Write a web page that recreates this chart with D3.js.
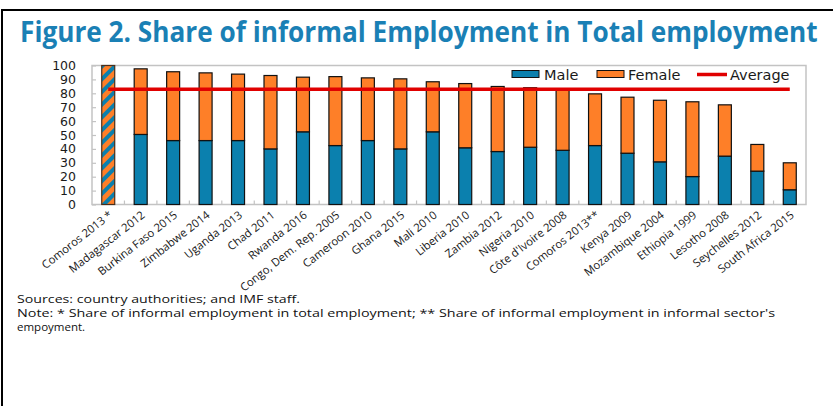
<!DOCTYPE html>
<html>
<head>
<meta charset="utf-8">
<script src="https://cdn.jsdelivr.net/npm/d3@7"></script>
<style>
  html, body { margin: 0; padding: 0; background: #fff; }
  svg { display: block; }
</style>
</head>
<body>
<svg id="chart" width="833" height="406"></svg>
<script>
// Countries (survey year); first bar is a single total-only value
const categories = [
  "Comoros 2013 *", "Madagascar 2012", "Burkina Faso 2015", "Zimbabwe 2014",
  "Uganda 2013", "Chad 2011", "Rwanda 2016", "Congo, Dem. Rep. 2005",
  "Cameroon 2010", "Ghana 2015", "Mali 2010", "Liberia 2010", "Zambia 2012",
  "Nigeria 2010", "Côte d'Ivoire 2008", "Comoros 2013**", "Kenya 2009",
  "Mozambique 2004", "Ethiopia 1999", "Lesotho 2008", "Seychelles 2012",
  "South Africa 2015"
];
// Male contribution (bottom segment); null where no split is available
const male = [null, 50.4, 46.0, 46.0, 46.0, 40.0, 52.3, 42.4, 46.0, 40.0, 52.3,
  40.8, 38.1, 41.2, 39.0, 42.4, 36.9, 30.7, 20.1, 34.8, 24.0, 10.6];
// Total informal share (top of each bar)
const total = [100, 97.6, 95.5, 94.7, 93.8, 92.8, 91.6, 92.0, 91.1, 90.4, 88.3,
  87.0, 84.9, 84.0, 82.5, 79.6, 77.2, 75.0, 73.9, 71.7, 43.2, 30.0];
const average = 82.9;
const yTicks = [0, 10, 20, 30, 40, 50, 60, 70, 80, 90, 100];

const colors = { male: "#0b80ae", female: "#fe7f28", avg: "#e00000", frame: "#c3c3c3" };

const svg = d3.select("#chart");

// Hatch used for the total-only bar
const defs = svg.append("defs");
const pat = defs.append("pattern")
  .attr("id", "hatch").attr("patternUnits", "userSpaceOnUse")
  .attr("width", 9).attr("height", 9)
  .attr("patternTransform", "rotate(45)");
pat.append("rect").attr("width", 9).attr("height", 9).attr("fill", colors.female);
pat.append("rect").attr("width", 4).attr("height", 9).attr("fill", colors.male);

// Outer border of the figure
svg.append("path").attr("d", "M2,406 V10 H833")
  .attr("fill", "none").attr("stroke", "#000").attr("stroke-width", 2);

// Title, condensed horizontally to span its line
const title = svg.append("text")
  .attr("font-family", "'Open Sans', sans-serif").attr("font-weight", 700)
  .attr("font-size", 28).attr("fill", "#1a80b5")
  .text("Figure 2. Share of informal Employment in Total employment");
const titleW = title.node().getComputedTextLength();
title.attr("transform", `translate(20,42) scale(${798 / titleW},1)`);

const plot = { left: 92, right: 806, top: 65.5, bottom: 204.5 };

const x = d3.scaleBand().domain(categories)
  .range([plot.left, plot.right]).paddingInner(0.6).paddingOuter(0.3);
const y = d3.scaleLinear().domain([0, 100]).range([plot.bottom, plot.top]);

// Plot frame
svg.append("rect")
  .attr("x", plot.left).attr("y", plot.top)
  .attr("width", plot.right - plot.left).attr("height", plot.bottom - plot.top)
  .attr("fill", "none").attr("stroke", colors.frame).attr("stroke-width", 1.5);

// Y axis with inward ticks
const yAxis = svg.append("g").attr("transform", `translate(${plot.left},0)`)
  .call(d3.axisLeft(y).tickValues(yTicks).tickSize(-4).tickPadding(16));
yAxis.select(".domain").remove();
yAxis.selectAll("line").attr("stroke", colors.frame).attr("stroke-width", 1.2);
yAxis.selectAll("text")
  .attr("font-family", "'DejaVu Sans', sans-serif").attr("font-size", 12.5)
  .attr("fill", "#1a1a1a");

// X axis: category labels at band centres, ticks at band boundaries
const xAxis = svg.append("g").attr("transform", `translate(0,${plot.bottom})`)
  .call(d3.axisBottom(x).tickSize(0).tickPadding(0));
xAxis.select(".domain").remove();
xAxis.selectAll("text")
  .attr("font-family", "'Open Sans', sans-serif").attr("font-size", 11.3)
  .attr("fill", "#1a1a1a")
  .attr("text-anchor", "end")
  .attr("dy", null).attr("y", 0)
  .attr("transform", "translate(5,12) rotate(-38)");

const half = x.step() * x.paddingInner() / 2;
svg.append("g").selectAll("line")
  .data(categories.slice(0, -1))
  .join("line")
  .attr("x1", d => x(d) + x.bandwidth() + half)
  .attr("x2", d => x(d) + x.bandwidth() + half)
  .attr("y1", plot.bottom).attr("y2", plot.bottom - 4)
  .attr("stroke", colors.frame).attr("stroke-width", 1.2);

// Bars
const rows = categories.map((c, i) => ({ c, male: male[i], total: total[i] }));
const bars = svg.append("g");
bars.selectAll("rect.total-only")
  .data(rows.filter(r => r.male == null))
  .join("rect").attr("class", "total-only")
  .attr("x", d => x(d.c)).attr("width", x.bandwidth())
  .attr("y", d => y(d.total)).attr("height", d => y(0) - y(d.total))
  .attr("fill", "url(#hatch)").attr("stroke", "#4a2e1a").attr("stroke-width", 1.2);
bars.selectAll("rect.male")
  .data(rows.filter(r => r.male != null))
  .join("rect").attr("class", "male")
  .attr("x", d => x(d.c)).attr("width", x.bandwidth())
  .attr("y", d => y(d.male)).attr("height", d => y(0) - y(d.male))
  .attr("fill", colors.male).attr("stroke", "#111").attr("stroke-width", 1.2);
bars.selectAll("rect.female")
  .data(rows.filter(r => r.male != null))
  .join("rect").attr("class", "female")
  .attr("x", d => x(d.c)).attr("width", x.bandwidth())
  .attr("y", d => y(d.total)).attr("height", d => y(d.male) - y(d.total))
  .attr("fill", colors.female).attr("stroke", "#111").attr("stroke-width", 1.2);

// Average line across bar centres
const first = categories[0], last = categories[categories.length - 1];
svg.append("line")
  .attr("x1", x(first) + x.bandwidth() / 2).attr("x2", x(last) + x.bandwidth() / 2)
  .attr("y1", y(average)).attr("y2", y(average))
  .attr("stroke", colors.avg).attr("stroke-width", 3.5);

// Legend
const legend = svg.append("g")
  .attr("font-family", "'DejaVu Sans', sans-serif").attr("font-size", 14.5).attr("fill", "#1a1a1a");
legend.append("rect").attr("x", 512).attr("y", 70.5).attr("width", 27).attr("height", 7)
  .attr("fill", colors.male).attr("stroke", "#111").attr("stroke-width", 1);
legend.append("text").attr("x", 544).attr("y", 79.5).text("Male");
legend.append("rect").attr("x", 597).attr("y", 70.5).attr("width", 27).attr("height", 7)
  .attr("fill", colors.female).attr("stroke", "#111").attr("stroke-width", 1);
legend.append("text").attr("x", 628).attr("y", 79.5).text("Female");
legend.append("line").attr("x1", 697).attr("x2", 727).attr("y1", 74.5).attr("y2", 74.5)
  .attr("stroke", colors.avg).attr("stroke-width", 3.5);
legend.append("text").attr("x", 730).attr("y", 79.5).text("Average");

// Footnotes
const notes = svg.append("g")
  .attr("font-family", "'Open Sans', sans-serif").attr("font-size", 11.5).attr("fill", "#111");
notes.append("text").attr("x", 17).attr("y", 303)
  .attr("textLength", 283).attr("lengthAdjust", "spacingAndGlyphs")
  .text("Sources: country  authorities;  and IMF staff.");
notes.append("text").attr("x", 17).attr("y", 317)
  .attr("textLength", 758).attr("lengthAdjust", "spacingAndGlyphs")
  .text("Note: *  Share of informal employment in total employment; ** Share of informal employment in informal sector's");
notes.append("text").attr("x", 17).attr("y", 331)
  .text("empoyment.");
</script>
</body>
</html>
